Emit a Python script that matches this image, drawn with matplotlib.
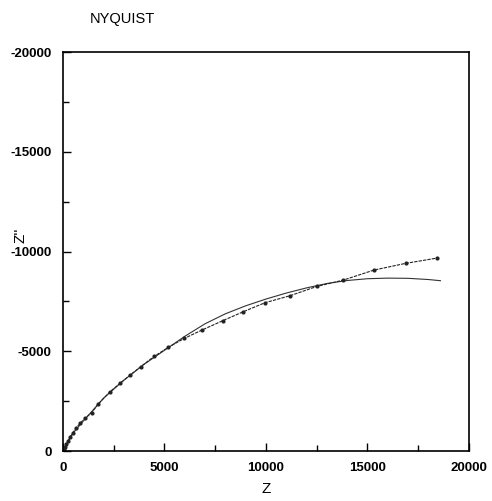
import matplotlib
matplotlib.use('Agg')
import matplotlib.pyplot as plt
import numpy as np

plt.rcParams['font.family'] = ['Liberation Sans', 'DejaVu Sans']
plt.rcParams['axes.unicode_minus'] = False

# measured points (Z', Z'')
z_re = [50, 100, 170, 250, 350, 480, 650, 850, 1100, 1413, 1740, 2315, 2808,
        3300, 3825, 4500, 5190, 5976, 6847, 7865, 8880, 9950, 11180, 12500,
        13810, 15320, 16880, 18424]
z_im = [100, 200, 350, 500, 700, 900, 1150, 1400, 1650, 1921, 2356, 2973, 3392,
        3800, 4226, 4750, 5197, 5647, 6065, 6532, 6983, 7434, 7785, 8250,
        8570, 9073, 9409, 9674]

# fitted curve
fit_re = [0, 500, 1000, 2000, 3000, 4000, 5000, 6000, 7000, 8000, 9000, 10000,
          11000, 12000, 13000, 14000, 15000, 16000, 17000, 18000, 18600]
fit_im = [0, 900, 1500, 2650, 3550, 4350, 5050, 5750, 6380, 6880, 7280, 7620,
          7920, 8180, 8400, 8550, 8640, 8670, 8660, 8600, 8540]

fig = plt.figure(figsize=(4.92, 5.01), dpi=100)
ax = fig.add_axes([0.128, 0.0998, 0.825, 0.796])

ax.plot(fit_re, -np.array(fit_im), color='#333333', linewidth=0.8)
ax.plot(z_re, -np.array(z_im), color='#222222', linewidth=0.8, linestyle='--',
        dashes=(3, 1), marker='o', markersize=2.0)

ax.set_xlim(0, 20000)
ax.set_ylim(0, -20000)
ax.set_xticks([0, 5000, 10000, 15000, 20000])
ax.set_xticks([2500, 7500, 12500, 17500], minor=True)
ax.set_yticks([0, -5000, -10000, -15000, -20000])
ax.set_yticks([-2500, -7500, -12500, -17500], minor=True)
ax.tick_params(which='both', direction='in', top=False, right=False,
               labelsize=9.5, pad=8)
ax.tick_params(which='major', length=6, width=1)
ax.tick_params(which='minor', length=4, width=1)
for s in ax.spines.values():
    s.set_linewidth(1.2)

for lab in ax.get_xticklabels() + ax.get_yticklabels():
    lab.set_fontweight('bold')

ax.set_xlabel('Z', fontsize=11, labelpad=6)
ax.text(-0.105, 0.54, "Z''", transform=ax.transAxes, rotation=90,
        fontsize=11, ha='center', va='center')
fig.text(0.183, 0.962, 'NYQUIST', fontsize=10.5, ha='left', va='center')

fig.savefig('out.png', dpi=100)
